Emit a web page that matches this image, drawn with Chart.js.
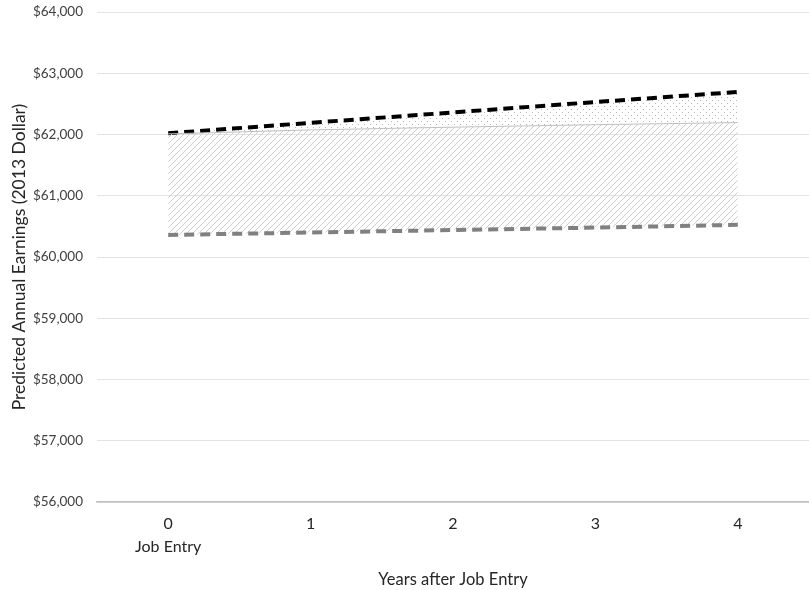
<!DOCTYPE html>
<html>
<head>
<meta charset="utf-8">
<script src="https://cdn.jsdelivr.net/npm/chart.js@4.4.1/dist/chart.umd.min.js"></script>
<style>
  html, body { margin: 0; padding: 0; background: #fff; }
  #wrap { width: 809px; height: 590px; position: relative; }
</style>
</head>
<body>
<div id="wrap"><canvas id="chart"></canvas></div>
<script>
// Dades llegides del gràfic
const years = [['0', 'Job Entry'], '1', '2', '3', '4'];
const lowerEarnings = [60360, 60400, 60440, 60480, 60525];
const middleEarnings = [62010, 62075, 62120, 62160, 62195];
const upperEarnings = [62020, 62190, 62360, 62530, 62695];
const yTicks = [56000, 57000, 58000, 59000, 60000, 61000, 62000, 63000, 64000];

// Patrons de farciment (ratllat i puntejat)
function makeHatch() {
    const c = document.createElement('canvas');
    const s = 6;
    c.width = s; c.height = s;
    const ctx = c.getContext('2d');
    ctx.strokeStyle = '#cdcdcd';
    ctx.lineWidth = 1;
    ctx.beginPath();
    ctx.moveTo(-1, s + 1); ctx.lineTo(s + 1, -1);
    ctx.moveTo(-1, 1); ctx.lineTo(1, -1);
    ctx.moveTo(s - 1, s + 1); ctx.lineTo(s + 1, s - 1);
    ctx.stroke();
    return ctx.createPattern(c, 'repeat');
}

function makeDots() {
    const c = document.createElement('canvas');
    c.width = 6; c.height = 6;
    const ctx = c.getContext('2d');
    ctx.fillStyle = '#b5b5b5';
    ctx.fillRect(1, 1, 1, 1);
    ctx.fillRect(4, 4, 1, 1);
    return ctx.createPattern(c, 'repeat');
}

const fontFamily = 'Lato, "Open Sans", sans-serif';

new Chart(document.getElementById('chart'), {
    type: 'line',
    data: {
        labels: years,
        datasets: [
            {
                label: 'Lower',
                data: lowerEarnings,
                borderColor: '#808080',
                borderWidth: 4,
                borderDash: [10, 6],
                pointRadius: 0,
                fill: false,
                tension: 0
            },
            {
                label: 'Middle',
                data: middleEarnings,
                borderColor: '#c0c0c0',
                borderWidth: 1,
                pointRadius: 0,
                fill: 0,
                backgroundColor: makeHatch(),
                tension: 0
            },
            {
                label: 'Upper',
                data: upperEarnings,
                borderColor: '#000000',
                borderWidth: 4,
                borderDash: [10, 6],
                pointRadius: 0,
                fill: 1,
                backgroundColor: makeDots(),
                tension: 0
            }
        ]
    },
    options: {
        responsive: true,
        maintainAspectRatio: false,
        animation: false,
        layout: { padding: { top: 12, right: -4, bottom: 0, left: 0 } },
        plugins: {
            legend: { display: false },
            tooltip: { enabled: false }
        },
        scales: {
            x: {
                offset: true,
                grid: { display: false, drawTicks: false },
                border: { color: '#bfbfbf', width: 1.5 },
                ticks: {
                    color: '#262626',
                    font: { family: fontFamily, size: 16, lineHeight: 1.4 },
                    padding: 11,
                    maxRotation: 0
                },
                title: {
                    display: true,
                    text: 'Years after Job Entry',
                    color: '#262626',
                    font: { family: fontFamily, size: 16.5 },
                    padding: { top: 6, bottom: 0 }
                },
                afterFit: scale => {
                    scale.height = 88;
                    scale.paddingLeft = 0;
                    scale.paddingRight = 0;
                }
            },
            y: {
                min: 56000,
                max: 64000,
                afterBuildTicks: scale => {
                    scale.ticks = yTicks.map(v => ({ value: v }));
                },
                grid: { color: '#e3e3e3', drawTicks: false },
                border: { display: false },
                ticks: {
                    color: '#404040',
                    font: { family: fontFamily, size: 13.5 },
                    padding: 14,
                    callback: v => '$' + v.toLocaleString('en-US')
                },
                title: {
                    display: true,
                    text: 'Predicted Annual Earnings (2013 Dollar)',
                    color: '#262626',
                    font: { family: fontFamily, size: 17.5 },
                    padding: { top: 9, bottom: 0 }
                },
                afterFit: scale => {
                    scale.width = 97;
                    scale.paddingTop = 0;
                    scale.paddingBottom = 0;
                }
            }
        }
    }
});
</script>
</body>
</html>
